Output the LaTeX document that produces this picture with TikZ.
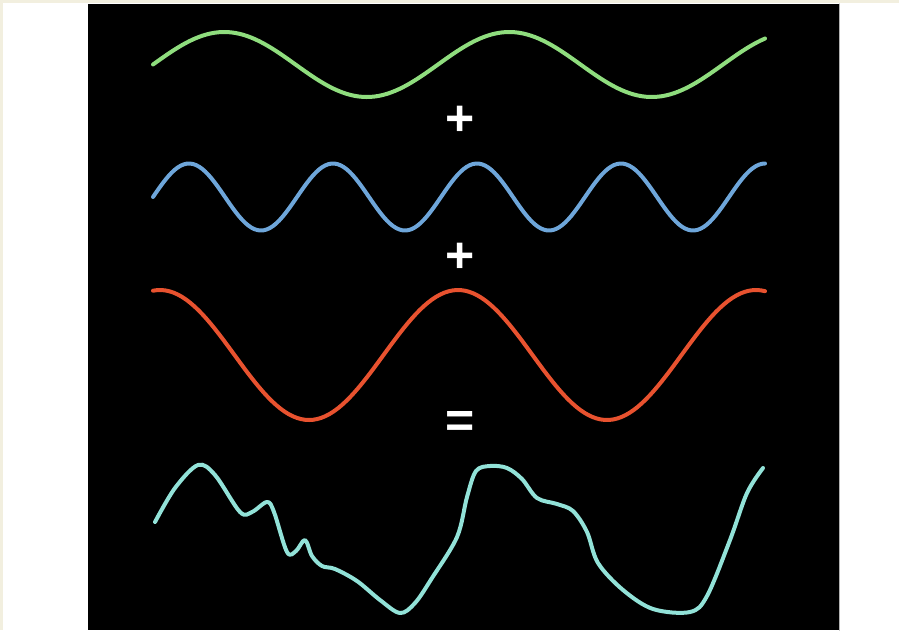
\documentclass[tikz,border=0pt]{standalone}
\usepackage{fontspec}
\setmainfont{Liberation Sans}
\usepackage{xcolor}

\definecolor{wavegreen}{HTML}{8FDD7E}
\definecolor{waveblue}{HTML}{6EA6DA}
\definecolor{wavered}{HTML}{E8522F}
\definecolor{wavecyan}{HTML}{92E2D8}
\definecolor{paper}{HTML}{F2EFDF}

\begin{document}
\begin{tikzpicture}[x=1pt, y=-1pt, line cap=round, line join=round,
  wave/.style={line width=4pt},
  sign/.style={text=white, font=\fontsize{50}{50}\selectfont\bfseries, inner sep=0pt}]
  \useasboundingbox (0,0) rectangle (899,630);
  \fill[paper] (0,0) rectangle (899,630);
  \fill[white] (3,3) rectangle (899,630);
  \fill[black] (88,4) rectangle (839,630);
  \draw[gray!60, line width=1.5pt] (839.5,4) -- (839.5,630);
  % the three pure waves
  \draw[wave, wavegreen] plot[domain=153:765, samples=150] (\x, {64.5-32.5*sin((\x-153)/285*360)});
  \draw[wave, waveblue] plot[domain=153:765, samples=200] (\x, {197-33.5*sin((\x-153)/144*360)});
  \draw[wave, wavered] plot[domain=153:765, samples=150] (\x, {355-65*cos((\x-160)/298*360)});
  % their sum
  \draw[wave, wavecyan] plot[smooth, tension=0.55] coordinates {
    (155,522) (175,488) (198,465) (215,475) (240,512) (252,512) (267,502) (274,512)
    (287,552) (296,551) (305,540) (312,556) (322,566) (335,569) (357,581)
    (380,600) (400,613) (415,603) (432,578) (457,537) (467,497) (476,471)
    (490,466) (507,468) (522,479) (537,498) (557,504) (573,511) (587,532)
    (598,563) (623,590) (653,609) (690,612) (707,596) (730,540) (747,493) (763,468)};
  \node[sign] (plusA) at (460,121) {+};
  \node[sign] (plusB) at (460,258) {+};
  \node[sign] (equal) at (460,424) {=};
\end{tikzpicture}
\end{document}
